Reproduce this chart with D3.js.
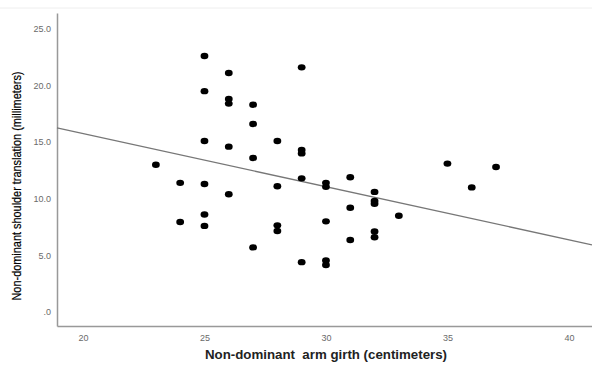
<!DOCTYPE html>
<html>
<head>
<meta charset="utf-8">
<script src="https://cdn.jsdelivr.net/npm/d3@7"></script>
<style>
  body { margin: 0; background: #fff; }
  svg { display: block; }
</style>
</head>
<body>
<div id="vis"></div>
<script>
// data
var girth = [23, 24, 24, 25, 25, 25, 25, 25, 25,
  26, 26, 26, 26, 26, 27, 27, 27, 27,
  28, 28, 28, 28, 29, 29, 29, 29, 29,
  30, 30, 30, 30, 30, 31, 31, 31,
  32, 32, 32, 32, 32, 33, 35, 36, 37];
var translation = [13.0, 11.4, 7.95, 22.6, 19.5, 15.1, 11.3, 8.6, 7.6,
  21.1, 18.8, 18.4, 14.6, 10.4, 18.3, 16.6, 13.6, 5.7,
  15.1, 11.1, 7.65, 7.15, 21.6, 14.3, 14.0, 11.8, 4.4,
  11.4, 11.05, 8.0, 4.55, 4.15, 11.9, 9.2, 6.35,
  10.6, 9.8, 9.55, 7.1, 6.6, 8.5, 13.1, 11.0, 12.8];
var xTicks = [20, 25, 30, 35, 40];
var yTicks = [0, 5, 10, 15, 20, 25];
// fit line (intercept, slope)
var fitLine = [25.13, -0.469];

var width = 592, height = 365;
var margin = {left: 57, right: 0, top: 13, bottom: 39};

var svg = d3.select('#vis').append('svg')
  .attr('width', width)
  .attr('height', height);

var x = d3.scaleLinear()
  .domain([18.93, 40.95])
  .range([margin.left, width - margin.right]);

var y = d3.scaleLinear()
  .domain([-1.24, 26.4])
  .range([height - margin.bottom, margin.top]);

// faint frame line at top
svg.append('line')
  .attr('x1', 0).attr('x2', width)
  .attr('y1', 8).attr('y2', 8)
  .attr('stroke', '#eeeeee');

// axes
var xAxis = svg.append('g')
  .attr('transform', 'translate(0,' + (height - margin.bottom) + ')')
  .call(d3.axisBottom(x).tickValues(xTicks).tickSize(0).tickPadding(9));

var yAxis = svg.append('g')
  .attr('transform', 'translate(' + margin.left + ',0)')
  .call(d3.axisLeft(y).tickValues(yTicks).tickSize(0).tickPadding(6)
    .tickFormat(function(d){ return d === 0 ? '.0' : d3.format('.1f')(d); }));

[xAxis, yAxis].forEach(function(g){
  g.select('.domain').attr('stroke', '#999').attr('stroke-width', 1.5);
  g.selectAll('text')
    .attr('fill', '#6a6a6a')
    .style('font-family', 'Liberation Sans, Arial, sans-serif')
    .style('font-size', '9px');
});

// regression line
svg.append('line')
  .attr('x1', x(18.93)).attr('y1', y(fitLine[0] + fitLine[1] * 18.93))
  .attr('x2', x(40.95)).attr('y2', y(fitLine[0] + fitLine[1] * 40.95))
  .attr('stroke', '#777')
  .attr('stroke-width', 1.3);

// points
var pts = girth.map(function(g, i){ return {g: g, t: translation[i]}; });
svg.selectAll('ellipse.pt')
  .data(pts)
  .enter().append('ellipse')
  .attr('class', 'pt')
  .attr('cx', function(d){ return x(d.g); })
  .attr('cy', function(d){ return y(d.t); })
  .attr('rx', 3.9)
  .attr('ry', 3.2)
  .attr('fill', '#000');

// axis titles
svg.append('text')
  .attr('x', 326).attr('y', 359)
  .attr('text-anchor', 'middle')
  .attr('textLength', 242)
  .attr('lengthAdjust', 'spacingAndGlyphs')
  .style('white-space', 'pre')
  .style('font-family', 'Liberation Sans, Arial, sans-serif')
  .style('font-size', '12.5px')
  .style('font-weight', 'bold')
  .attr('fill', '#222')
  .text('Non-dominant  arm girth (centimeters)');

svg.append('text')
  .attr('transform', 'translate(21,186) rotate(-90)')
  .attr('text-anchor', 'middle')
  .attr('textLength', 229)
  .attr('lengthAdjust', 'spacingAndGlyphs')
  .style('font-family', 'Liberation Sans, Arial, sans-serif')
  .style('font-size', '12px')
  .attr('fill', '#000')
  .attr('stroke', '#000')
  .attr('stroke-width', 0.2)
  .text('Non-dominant shoulder translation (millimeters)');
</script>
</body>
</html>
